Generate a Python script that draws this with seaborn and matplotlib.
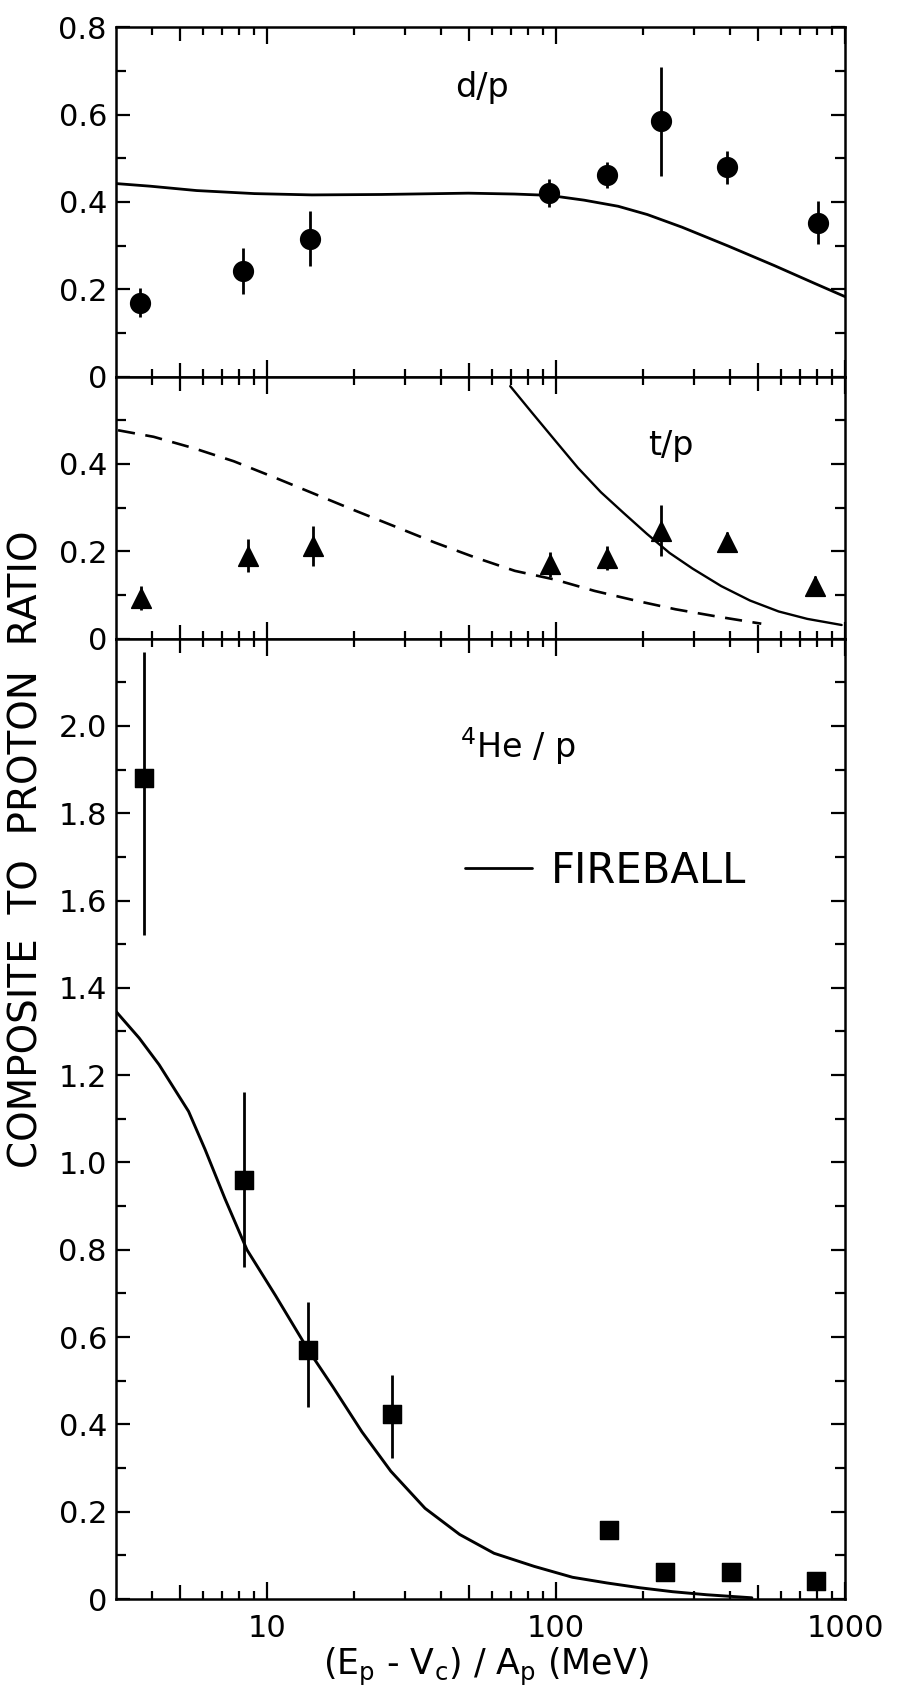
import numpy as np
import pandas as pd
import matplotlib
matplotlib.use("Agg")
import matplotlib.pyplot as plt
import seaborn as sns
from matplotlib import font_manager as fm
from matplotlib.ticker import FixedLocator, FixedFormatter, NullFormatter
from matplotlib.lines import Line2D

# ---------------- data ----------------
# d/p
dp_x = [3.63, 8.28, 14.1, 94.6, 150, 230, 391, 805]
dp_y = [0.169, 0.241, 0.316, 0.420, 0.462, 0.585, 0.479, 0.352]
dp_err = [0.033, 0.053, 0.063, 0.032, 0.030, 0.125, 0.038, 0.049]
dp_fire_x = [3.0, 3.94, 5.70, 9.04, 14.3, 24.9, 49.7, 71.8, 94.6, 125, 164, 207, 273, 394, 570, 787, 1000]
dp_fire_y = [0.442, 0.436, 0.426, 0.419, 0.416, 0.417, 0.420, 0.418, 0.415, 0.404, 0.390, 0.371, 0.342, 0.299, 0.254, 0.213, 0.183]

# t/p
tp_x = [3.66, 8.56, 14.4, 95.6, 150, 231, 390, 785]
tp_y = [0.093, 0.190, 0.212, 0.170, 0.185, 0.247, 0.221, 0.120]
tp_err = [0.027, 0.038, 0.046, 0.029, 0.027, 0.058, 0.023, 0.023]
tp_fire_x = [69.4, 82.6, 99.1, 119, 143, 171, 206, 247, 297, 373, 469, 589, 740, 973]
tp_fire_y = [0.578, 0.517, 0.454, 0.391, 0.335, 0.288, 0.240, 0.196, 0.160, 0.120, 0.087, 0.062, 0.045, 0.031]
tp_dash_x = [3.05, 4.05, 5.57, 7.67, 10.6, 14.5, 20.0, 27.6, 38.0, 52.3, 72.0, 99.1, 136, 188, 259, 356, 513]
tp_dash_y = [0.477, 0.462, 0.436, 0.406, 0.369, 0.332, 0.294, 0.257, 0.220, 0.186, 0.155, 0.135, 0.109, 0.087, 0.067, 0.051, 0.034]

# 4He/p
he_x = [3.74, 8.33, 13.9, 27.0, 152, 239, 402, 792]
he_y = [1.88, 0.961, 0.570, 0.423, 0.159, 0.061, 0.062, 0.041]
he_err_lo = [0.36, 0.20, 0.13, 0.10, 0.02, 0.02, 0.0, 0.0]
he_err_hi = [0.29, 0.20, 0.11, 0.09, 0.00, 0.02, 0.0, 0.0]
he_fire_x = [3.0, 3.61, 4.23, 4.68, 5.35, 6.10, 7.15, 8.52, 10.7, 13.9, 16.9, 21.3, 26.8, 35.2, 46.4,
             61.0, 84.0, 114, 150, 195, 253, 332, 476]
he_fire_y = [1.346, 1.285, 1.224, 1.178, 1.117, 1.030, 0.917, 0.800, 0.695, 0.57, 0.486, 0.383, 0.293,
             0.208, 0.148, 0.105, 0.075, 0.050, 0.037, 0.026, 0.017, 0.010, 0.003]

x_major = [10, 100, 1000]
x_minor = [4, 5, 6, 7, 8, 9, 20, 30, 40, 50, 60, 70, 80, 90, 200, 300, 400, 500, 600, 700, 800, 900]
x_mid = [5, 50, 500]
x_labels = ["10", "100", "1000"]

# ---------------- style ----------------
sns.set_theme(style="ticks")
plt.rcParams["font.family"] = ["DejaVu Sans"]
plt.rcParams["mathtext.fontset"] = "dejavusans"
plt.rcParams["text.color"] = "black"
plt.rcParams["axes.linewidth"] = 1.8
plt.rcParams["axes.edgecolor"] = "black"


def has_font(name):
    try:
        fm.findfont(fm.FontProperties(family=name), fallback_to_default=False)
        return True
    except Exception:
        return False


fig = plt.figure(figsize=(8.99, 17.03), dpi=100)
gs = fig.add_gridspec(3, 1, height_ratios=[0.8, 0.6, 2.2], hspace=0,
                      left=0.129, right=0.940, bottom=0.061, top=0.984)
axes = [fig.add_subplot(gs[i]) for i in range(3)]

ylims = [(0, 0.8), (0, 0.6), (0, 2.2)]
ymaj = [[0, 0.2, 0.4, 0.6, 0.8], [0, 0.2, 0.4], [round(0.2 * i, 1) for i in range(11)]]
ymin = [[0.1, 0.3, 0.5, 0.7], [0.1, 0.3, 0.5], [round(0.1 + 0.2 * i, 1) for i in range(11)]]

for ax, yl, ma, mi in zip(axes, ylims, ymaj, ymin):
    ax.set_xscale("log")
    ax.set_xlim(3, 1000)
    ax.set_ylim(*yl)
    ax.xaxis.set_major_locator(FixedLocator(x_major))
    ax.xaxis.set_minor_locator(FixedLocator(x_minor))
    ax.xaxis.set_minor_formatter(NullFormatter())
    ax.yaxis.set_major_locator(FixedLocator(ma))
    ax.yaxis.set_minor_locator(FixedLocator(mi))
    ax.yaxis.set_major_formatter(FixedFormatter(["0" if v == 0 else f"{v:.1f}" for v in ma]))
    ax.tick_params(axis="x", which="both", direction="in", top=True, bottom=True,
                   width=1.6, colors="black", labelsize=22, pad=11)
    ax.tick_params(axis="x", which="major", length=12)
    ax.tick_params(axis="x", which="minor", length=5.5)
    ax.tick_params(axis="y", which="both", direction="in", left=True, right=True,
                   width=1.6, colors="black", labelsize=22, pad=6.5)
    ax.tick_params(axis="y", which="major", length=10)
    ax.tick_params(axis="y", which="minor", length=7)
    for sp in ax.spines.values():
        sp.set_visible(True)
        sp.set_linewidth(1.8)
        sp.set_color("black")
    ax.set_xlabel("")
    ax.set_ylabel("")

for ax in axes[:2]:
    ax.xaxis.set_major_formatter(NullFormatter())
axes[2].xaxis.set_major_formatter(FixedFormatter(x_labels))

# ---------------- d/p panel ----------------
ax = axes[0]
sns.lineplot(x=dp_fire_x, y=dp_fire_y, ax=ax, color="black", lw=2.0, sort=False, estimator=None)
ax.errorbar(dp_x, dp_y, yerr=dp_err, fmt="none", ecolor="black", elinewidth=2.0, capsize=0)
sns.scatterplot(x=dp_x, y=dp_y, ax=ax, marker="o", s=200, color="black", edgecolor="black", zorder=5)
fig.text(482 / 899, 1 - 88 / 1703, "d/p", fontsize=24, ha="center", va="center")

# ---------------- t/p panel ----------------
ax = axes[1]
sns.lineplot(x=tp_fire_x, y=tp_fire_y, ax=ax, color="black", lw=1.7, sort=False, estimator=None)
sns.lineplot(x=tp_dash_x, y=tp_dash_y, ax=ax, color="black", lw=1.9, sort=False, estimator=None,
             linestyle=(0, (6.5, 4)))
ax.errorbar(tp_x, tp_y, yerr=tp_err, fmt="none", ecolor="black", elinewidth=2.0, capsize=0)
sns.scatterplot(x=tp_x, y=tp_y, ax=ax, marker="^", s=200, color="black", edgecolor="black", zorder=5)
fig.text(671 / 899, 1 - 446 / 1703, "t/p", fontsize=24, ha="center", va="center")

# ---------------- 4He/p panel ----------------
ax = axes[2]
sns.lineplot(x=he_fire_x, y=he_fire_y, ax=ax, color="black", lw=2.1, sort=False, estimator=None)
ax.errorbar(he_x, he_y, yerr=[he_err_lo, he_err_hi], fmt="none", ecolor="black", elinewidth=2.0, capsize=0)
sns.scatterplot(x=he_x, y=he_y, ax=ax, marker="s", s=170, color="black", edgecolor="black", zorder=5)
fig.text(518 / 899, 1 - 758 / 1703, r"$^{4}$He / p", fontsize=24, ha="center", va="baseline")

ax.legend(handles=[Line2D([], [], color="black", lw=2.0)], labels=["FIREBALL"],
          loc="center left", bbox_to_anchor=(465 / 899, 1 - 871 / 1703),
          bbox_transform=fig.transFigure, frameon=False, fontsize=30,
          handlelength=1.6, handletextpad=0.45, borderpad=0, borderaxespad=0)

# axis titles
if has_font("Liberation Sans Narrow"):
    ylab_family, ylab_size, gap = ["Liberation Sans Narrow", "DejaVu Sans"], 30, "     "
else:
    ylab_family, ylab_size, gap = ["DejaVu Sans"], 28, "  "
fig.text(0.030, 0.5015, gap.join(["COMPOSITE", "TO", "PROTON", "RATIO"]), rotation=90,
         fontsize=ylab_size, family=ylab_family, ha="center", va="center")
fig.text(486 / 899, 1 - 1675 / 1703,
         r"(E$_\mathregular{p}$ - V$_\mathregular{c}$) / A$_\mathregular{p}$ (MeV)",
         fontsize=25, ha="center", va="baseline")

fig.canvas.draw()
for ax in axes:
    for loc, t in zip(ax.xaxis.get_minorticklocs(), ax.xaxis.get_minor_ticks()):
        if any(abs(loc - m) < 1e-6 for m in x_mid):
            t.tick1line.set_markersize(10)
            t.tick2line.set_markersize(10)

fig.savefig("out.png", dpi=100)
